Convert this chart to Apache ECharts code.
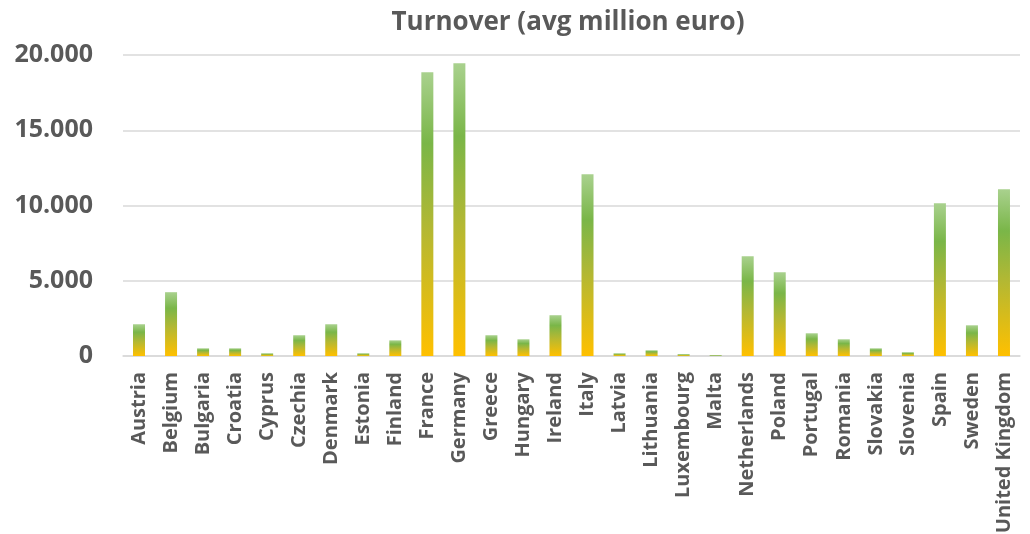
<!DOCTYPE html>
<html>
<head>
<meta charset="utf-8">
<script src="https://cdn.jsdelivr.net/npm/echarts@6/dist/echarts.min.js"></script>
<style>
html,body{margin:0;padding:0;background:#fff;}
#c{width:1030px;height:534px;}
</style>
</head>
<body>
<div id="c"></div>
<script>
const countries = ["Austria","Belgium","Bulgaria","Croatia","Cyprus","Czechia","Denmark","Estonia","Finland","France","Germany","Greece","Hungary","Ireland","Italy","Latvia","Lithuania","Luxembourg","Malta","Netherlands","Poland","Portugal","Romania","Slovakia","Slovenia","Spain","Sweden","United Kingdom"];
const turnover = [2110,4240,510,510,180,1380,2110,180,1040,18860,19460,1380,1110,2710,12080,180,380,120,50,6630,5570,1510,1110,510,250,10150,2040,11080];
const yTicks = [0,5000,10000,15000,20000];

const chart = echarts.init(document.getElementById('c'), null, {renderer:'canvas'});
const fmt = v => String(v).replace(/\B(?=(\d{3})+(?!\d))/g, '.');
chart.setOption({
  animation:false,
  backgroundColor:'#fff',
  title:{
    text:'Turnover (avg million euro)',
    left:563, top:5, textAlign:'center',
    textStyle:{fontFamily:'Open Sans', fontWeight:'bold', fontSize:26, color:'#595959'}
  },
  grid:{left:123, right:10, top:55, bottom:178, containLabel:false, outerBoundsMode:'none'},
  xAxis:{
    type:'category', data:countries,
    axisLine:{lineStyle:{color:'#d9d9d9', width:1.5}},
    axisTick:{show:false},
    axisLabel:{rotate:90, interval:0, margin:16, fontFamily:'Open Sans', fontWeight:'bold', fontSize:20, color:'#595959'}
  },
  yAxis:{
    type:'value', min:yTicks[0], max:yTicks[yTicks.length-1], interval:5000,
    axisLine:{show:false}, axisTick:{show:false},
    splitLine:{lineStyle:{color:'#d9d9d9', width:1.5}},
    axisLabel:{margin:30, fontFamily:'Open Sans', fontWeight:'bold', fontSize:25, color:'#595959', formatter:fmt}
  },
  series:[{
    type:'bar', data:turnover, barWidth:12,
    itemStyle:{
      color:new echarts.graphic.LinearGradient(0,1,0,0,[
        {offset:0, color:'#FFC000'},
        {offset:0.45, color:'#B3B833'},
        {offset:0.75, color:'#7AB648'},
        {offset:1, color:'#A9D18E'}
      ])
    }
  }]
});
</script>
</body>
</html>
